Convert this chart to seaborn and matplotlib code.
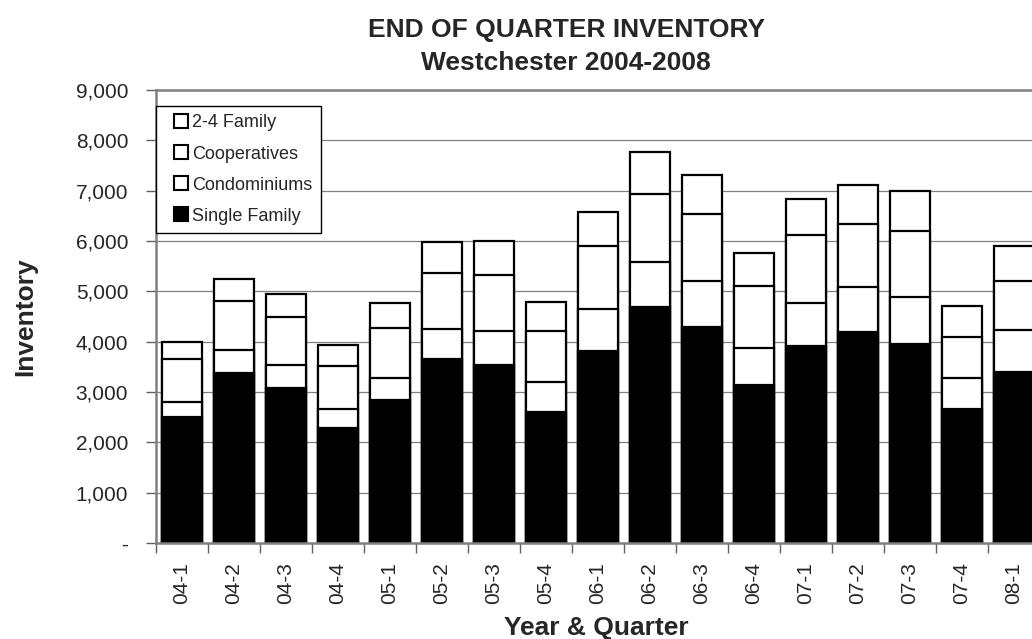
import numpy as np
import pandas as pd
import matplotlib
matplotlib.use("Agg")
import matplotlib.pyplot as plt
from matplotlib.lines import Line2D
from matplotlib.ticker import FuncFormatter, FixedLocator
import seaborn as sns

# Data (inventory per segment)
quarters = ['04-1', '04-2', '04-3', '04-4', '05-1', '05-2', '05-3', '05-4',
            '06-1', '06-2', '06-3', '06-4', '07-1', '07-2', '07-3', '07-4', '08-1']
single_family = [2500, 3370, 3080, 2290, 2845, 3660, 3535, 2600, 3810, 4690, 4285, 3145, 3910, 4190, 3955, 2655, 3405]
condominiums = [300, 460, 455, 375, 440, 590, 670, 600, 830, 895, 915, 730, 865, 900, 930, 620, 835]
cooperatives = [850, 975, 960, 850, 980, 1120, 1110, 1010, 1255, 1355, 1345, 1240, 1335, 1250, 1315, 815, 975]
family_2_4 = [350, 435, 455, 425, 500, 610, 680, 570, 680, 830, 770, 650, 720, 780, 785, 615, 680]

sns.set_theme(style="white")
plt.rcParams['font.family'] = ['Liberation Sans', 'DejaVu Sans']

df = pd.DataFrame({'quarter': quarters, 'sf': single_family, 'condo': condominiums,
                   'coop': cooperatives, 'fam': family_2_4})
df['cum_condo'] = df['sf'] + df['condo']
df['cum_coop'] = df['cum_condo'] + df['coop']
df['cum_fam'] = df['cum_coop'] + df['fam']

fig = plt.figure(figsize=(10.32, 6.39), dpi=100)
ax = fig.add_axes([156 / 1032, 96 / 639, 884 / 1032, 453 / 639])

# stacked bars: draw cumulative totals from the top layer down
layers = [('cum_fam', 'white'), ('cum_coop', 'white'), ('cum_condo', 'white'), ('sf', 'black')]
for col, fc in layers:
    sns.barplot(data=df, x='quarter', y=col, color=fc, saturation=1, edgecolor='black',
                linewidth=1.6, width=0.76, ax=ax)

ax.set_xlim(-0.5, len(quarters) - 0.5)
ax.set_ylim(0, 9000)
ax.set_yticks(np.arange(0, 9001, 1000))
ax.yaxis.set_major_formatter(FuncFormatter(lambda v, p: '-' if v == 0 else f'{int(v):,}'))
ax.set_axisbelow(True)
ax.yaxis.grid(True, color='#808080', linewidth=0.9)
ax.xaxis.grid(False)

# labels at bar centres, tick marks at category boundaries
ax.set_xticks(range(len(quarters)))
ax.set_xticklabels(quarters, rotation=90)
ax.xaxis.set_minor_locator(FixedLocator(np.arange(-0.5, len(quarters), 1)))
ax.tick_params(axis='x', which='major', length=0, pad=14, labelsize=15)
ax.tick_params(axis='x', which='minor', bottom=True, length=7, width=1, color='#606060', direction='out')
ax.tick_params(axis='y', left=True, length=7, width=1, color='#606060', direction='out', pad=13, labelsize=15)

for side in ['left', 'top', 'bottom']:
    ax.spines[side].set_visible(True)
    ax.spines[side].set_color('#808080')
    ax.spines[side].set_linewidth(1.8)
ax.spines['right'].set_visible(False)

ax.set_xlabel('')
ax.set_ylabel('')

def sq(fc, label):
    return Line2D([], [], linestyle='none', marker='s', markersize=9.4, markerfacecolor=fc,
                  markeredgecolor='black', markeredgewidth=1.5, label=label)

handles = [sq('white', '2-4 Family'), sq('white', 'Cooperatives'),
           sq('white', 'Condominiums'), sq('black', 'Single Family')]
leg = ax.legend(handles=handles, loc='upper left', bbox_to_anchor=(0, (543 - 106) / 453),
                borderaxespad=0, fontsize=13, handlelength=1.78, handletextpad=-0.25,
                labelspacing=0.78, borderpad=0.47, fancybox=False,
                frameon=True, framealpha=1)
leg.get_frame().set_edgecolor('black')
leg.get_frame().set_linewidth(1)

fig.text(566 / 1032, 1 - 36.7 / 639, 'END OF QUARTER INVENTORY', ha='center', va='baseline',
         fontsize=19, fontweight='bold')
fig.text(566 / 1032, 1 - 70 / 639, 'Westchester 2004-2008', ha='center', va='baseline',
         fontsize=19, fontweight='bold')
fig.text(25 / 1032, 1 - 317 / 639, 'Inventory', ha='center', va='center', rotation=90,
         fontsize=19, fontweight='bold')
fig.text(596 / 1032, 1 - 635 / 639, 'Year & Quarter', ha='center', va='baseline',
         fontsize=19, fontweight='bold')

fig.savefig('out.png', dpi=100)
